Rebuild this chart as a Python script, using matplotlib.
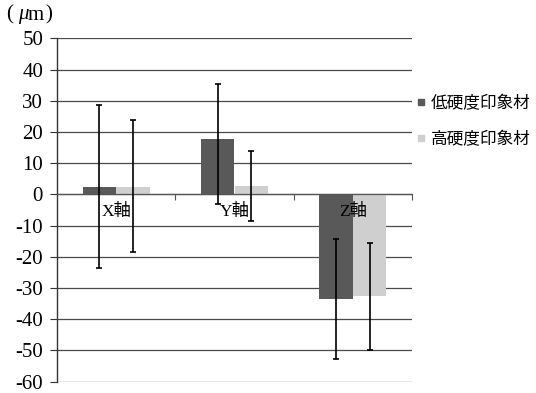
import matplotlib
matplotlib.use("Agg")
import matplotlib.pyplot as plt
from matplotlib.lines import Line2D
import numpy as np

plt.rcParams['axes.unicode_minus'] = False

categories = ["X軸", "Y軸", "Z軸"]
series_names = ["低硬度印象材", "高硬度印象材"]
low_vals = [2.4, 17.6, -33.4]
low_err_minus = [26.0, 20.6, 19.2]
low_err_plus = [26.1, 17.9, 19.0]
high_vals = [2.3, 2.7, -32.6]
high_err_minus = [20.9, 11.1, 17.4]
high_err_plus = [21.4, 11.2, 17.1]
yticks = list(range(-60, 51, 10))

colors = ["#595959", "#cfcfcf"]
serif_cjk = ['Liberation Serif', 'Noto Sans CJK JP']

W, H = 536, 393
fig = plt.figure(figsize=(W / 100, H / 100), dpi=100)
ax = fig.add_axes([57 / W, 1 - 381.7 / H, 355 / W, (381.7 - 38.3) / H])

x = np.arange(len(categories))
bw = 0.283
ax.bar(x - bw / 2, low_vals, bw, color=colors[0], zorder=2)
ax.bar(x + bw / 2, high_vals, bw, color=colors[1], zorder=2)
ax.errorbar(x - bw / 2, low_vals, yerr=[low_err_minus, low_err_plus], fmt='none',
            ecolor='black', elinewidth=1.2, capsize=2.5, capthick=1.2, zorder=4)
ax.errorbar(x + bw / 2, high_vals, yerr=[high_err_minus, high_err_plus], fmt='none',
            ecolor='black', elinewidth=1.2, capsize=2.5, capthick=1.2, zorder=4)

ax.set_xlim(-0.5, 2.5)
ax.set_ylim(-60, 50)
ax.set_yticks(yticks)
ax.set_yticklabels([str(v) for v in yticks], family='Liberation Serif', fontsize=15)
ax.tick_params(axis='y', length=5, width=0.8, pad=5, color='#333333')

ax.set_axisbelow(True)
ax.yaxis.grid(True, color='#4a4a4a', linewidth=0.9)
ax.xaxis.set_zorder(5)

for s in ['top', 'right']:
    ax.spines[s].set_visible(False)
ax.spines['left'].set_color('#333333')
ax.spines['left'].set_linewidth(1.0)
ax.spines['bottom'].set_position(('data', 0))
ax.spines['bottom'].set_color('#555555')
ax.spines['bottom'].set_linewidth(0.9)
ax.spines['bottom'].set_zorder(3)

ax.set_xticks([0.5, 1.5, 2.5])
ax.set_xticklabels([])
ax.tick_params(axis='x', which='major', length=4, width=0.8, color='#555555', direction='out')
ax.set_xticks(x, minor=True)
ax.set_xticklabels(categories, minor=True, family=serif_cjk, fontsize=12.5)
ax.tick_params(axis='x', which='minor', length=0, pad=7)

# unit label
fig.text(6 / W, 1 - 15 / H, "(", family='Liberation Serif', fontsize=15, va='center', ha='left')
fig.text(18 / W, 1 - 15 / H, "μ", family='Liberation Serif', style='italic', fontsize=15, va='center', ha='left')
fig.text(28 / W, 1 - 15 / H, "m", family='Liberation Serif', fontsize=15, va='center', ha='left')
fig.text(45 / W, 1 - 15 / H, ")", family='Liberation Serif', fontsize=15, va='center', ha='left')

handles = [Line2D([], [], marker='s', linestyle='none', markersize=5, color=c) for c in colors]
fig.legend(handles, series_names, loc='center left', bbox_to_anchor=(413 / W, 1 - 121.5 / H),
           frameon=False, prop={'family': 'Noto Sans CJK JP', 'size': 12},
           handletextpad=0.05, handlelength=1.0, labelspacing=1.15, borderpad=0, borderaxespad=0)

fig.savefig("out.png", dpi=100)
